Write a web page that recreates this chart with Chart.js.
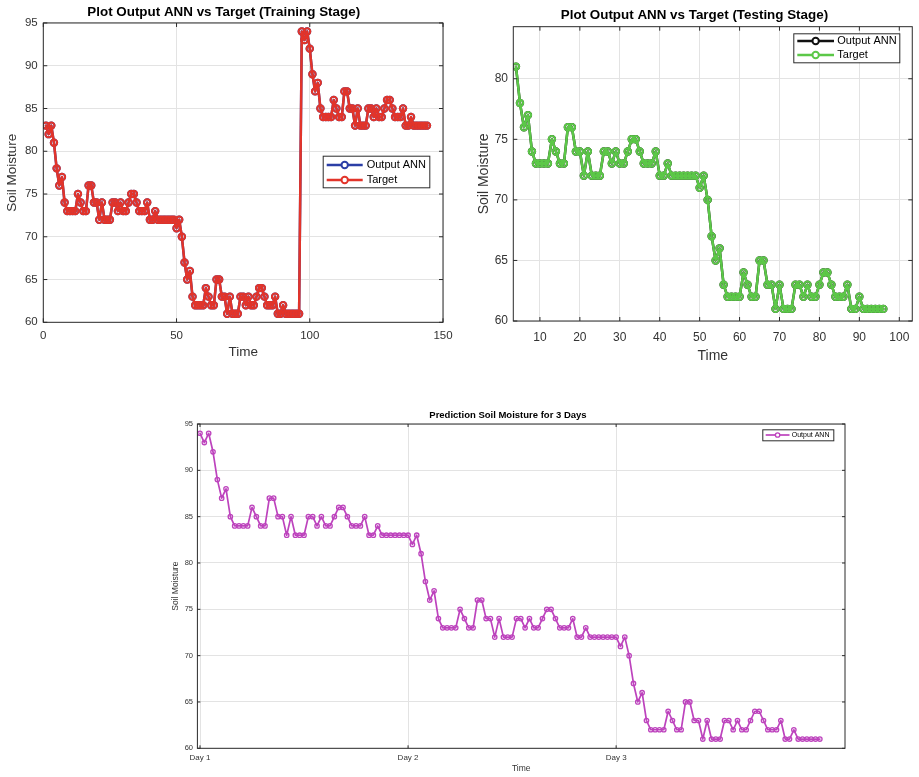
<!DOCTYPE html>
<html>
<head>
<meta charset="utf-8">
<script src="https://cdn.jsdelivr.net/npm/chart.js"></script>
<style>
  html, body { margin: 0; padding: 0; background: #fff; }
  body { width: 919px; height: 777px; position: relative; overflow: hidden; }
  canvas { position: absolute; }
  #train { left: 0; top: 0; }
  #test { left: 470px; top: 0; }
  #pred { left: 150px; top: 400px; }
</style>
</head>
<body>
<canvas id="train" width="470" height="370"></canvas>
<canvas id="test" width="449" height="370"></canvas>
<canvas id="pred" width="719" height="377"></canvas>
<script>
// soil moisture, one value per step
const trainTarget = [
  83,82,83,81,78,76,77,74,73,73,73,73,75,74,73,73,76,76,74,74,72,74,72,72,72,74,74,73,74,73,73,74,75,75,74,73,73,73,74,72,72,73,72,72,72,72,72,72,
  72,71,72,70,67,65,66,63,62,62,62,62,64,63,62,62,65,65,63,63,61,63,61,61,61,63,63,62,63,62,62,63,64,64,63,62,62,62,63,61,61,62,61,61,61,61,61,61,
  94,93,94,92,89,87,88,85,84,84,84,84,86,85,84,84,87,87,85,85,83,85,83,83,83,85,85,84,85,84,84,85,86,86,85,84,84,84,85,83,83,84,83,83,83,83,83,83
];
const testTarget = [
  81,78,76,77,74,73,73,73,73,75,74,73,73,76,76,74,74,72,74,72,72,72,74,74,73,74,73,73,74,75,75,74,73,73,73,74,72,72,73,72,72,72,72,72,72,
  72,71,72,70,67,65,66,63,62,62,62,62,64,63,62,62,65,65,63,63,61,63,61,61,61,63,63,62,63,62,62,63,64,64,63,62,62,62,63,61,61,62,61,61,61,61,61,61
];
const predOutput = [
  94,93,94,92,89,87,88,85,84,84,84,84,86,85,84,84,87,87,85,85,83,85,83,83,83,85,85,84,85,84,84,85,86,86,85,84,84,84,85,83,83,84,83,83,83,83,83,83,
  83,82,83,81,78,76,77,74,73,73,73,73,75,74,73,73,76,76,74,74,72,74,72,72,72,74,74,73,74,73,73,74,75,75,74,73,73,73,74,72,72,73,72,72,72,72,72,72,
  72,71,72,70,67,65,66,63,62,62,62,62,64,63,62,62,65,65,63,63,61,63,61,61,61,63,63,62,63,62,62,63,64,64,63,62,62,62,63,61,61,62,61,61,61,61,61,61
];
const trainStart = 1;
const testStart = 4;
const predStart = 0;

const trainXTicks = [0, 50, 100, 150];
const testXTicks = [10, 20, 30, 40, 50, 60, 70, 80, 90, 100];
const yTicks95 = [60, 65, 70, 75, 80, 85, 90, 95];
const testYTicks = [60, 65, 70, 75, 80];
const predDayTicks = [0, 48, 96];
const predDayLabels = ['Day 1', 'Day 2', 'Day 3'];

const red = '#e2342a';
const blue = '#2b3ea6';
const green = '#5cc848';
const black = '#111111';
const magenta = '#bd43bd';
const gridCol = '#e3e3e3';
const axisCol = '#333333';

Chart.defaults.font.family = '"Liberation Sans", Arial, sans-serif';

const pts = (arr, start) => arr.map((v, i) => ({ x: start + i, y: v }));

function series(label, data, color, lw, r, pw, order) {
  return {
    label, data, order,
    borderColor: color, borderWidth: lw,
    borderJoinStyle: 'round', borderCapStyle: 'round',
    pointRadius: r, pointBorderWidth: pw,
    pointBorderColor: color, pointBackgroundColor: 'rgba(0,0,0,0)',
    pointHoverRadius: r, tension: 0
  };
}

// box round the plot area, with inward tick marks like matlab
const frame = {
  id: 'frame',
  afterDatasetsDraw(chart, args, o) {
    const { ctx, chartArea: a, scales } = chart;
    const len = o.tick || 4;
    ctx.save();
    ctx.strokeStyle = '#2b2b2b';
    ctx.lineWidth = 1;
    ctx.strokeRect(a.left, a.top, a.right - a.left, a.bottom - a.top);
    ctx.beginPath();
    scales.x.ticks.forEach(t => {
      const px = scales.x.getPixelForValue(t.value);
      ctx.moveTo(px, a.bottom); ctx.lineTo(px, a.bottom - len);
      ctx.moveTo(px, a.top); ctx.lineTo(px, a.top + len);
    });
    scales.y.ticks.forEach(t => {
      const py = scales.y.getPixelForValue(t.value);
      ctx.moveTo(a.left, py); ctx.lineTo(a.left + len, py);
      ctx.moveTo(a.right, py); ctx.lineTo(a.right - len, py);
    });
    ctx.stroke();
    ctx.restore();
  }
};

// legend in a framed box, placed where matlab put it
const boxLegend = {
  id: 'boxLegend',
  afterDraw(chart, args, o) {
    const ctx = chart.ctx;
    ctx.save();
    ctx.fillStyle = '#fff';
    ctx.fillRect(o.x, o.y, o.w, o.h);
    ctx.strokeStyle = '#2b2b2b';
    ctx.lineWidth = 1;
    ctx.strokeRect(o.x + 0.5, o.y + 0.5, o.w, o.h);
    ctx.font = o.size + 'px "Liberation Sans", Arial, sans-serif';
    ctx.textBaseline = 'middle';
    chart.data.datasets.forEach((ds, i) => {
      const y = o.y + o.rowTop + i * (o.rowGap || 0);
      const x0 = o.x + o.line[0], x1 = o.x + o.line[1];
      ctx.strokeStyle = ds.borderColor;
      ctx.lineWidth = ds.borderWidth;
      ctx.beginPath(); ctx.moveTo(x0, y); ctx.lineTo(x1, y); ctx.stroke();
      ctx.lineWidth = ds.pointBorderWidth;
      ctx.fillStyle = '#fff';
      ctx.beginPath(); ctx.arc((x0 + x1) / 2, y, ds.pointRadius, 0, Math.PI * 2); ctx.fill(); ctx.stroke();
      ctx.fillStyle = '#000';
      ctx.fillText(ds.label, o.x + o.textX, y);
    });
    ctx.restore();
  }
};

function xScale(min, max, ticks, h, pad, fontSize, titleSize, cb) {
  return {
    type: 'linear', min, max,
    afterBuildTicks: s => { s.ticks = ticks.map(v => ({ value: v })); },
    afterFit: s => { s.height = h; },
    grid: { color: gridCol, drawTicks: false },
    border: { display: false },
    ticks: { padding: pad, color: axisCol, font: { size: fontSize }, maxRotation: 0, callback: cb || (v => v) },
    title: { display: true, text: 'Time', color: axisCol, padding: 0, font: { size: titleSize } }
  };
}

function yScale(min, max, ticks, w, pad, fontSize, titleSize) {
  return {
    min, max,
    afterBuildTicks: s => { s.ticks = ticks.map(v => ({ value: v })); },
    afterFit: s => { s.width = w; },
    grid: { color: gridCol, drawTicks: false },
    border: { display: false },
    ticks: { padding: pad, color: axisCol, font: { size: fontSize } },
    title: { display: true, text: 'Soil Moisture', color: axisCol, padding: 0, font: { size: titleSize } }
  };
}

new Chart(document.getElementById('train'), {
  type: 'line',
  data: {
    datasets: [
      series('Output ANN', pts(trainTarget, trainStart), blue, 2.5, 3.2, 2, 1),
      series('Target', pts(trainTarget, trainStart), red, 2.5, 3.2, 2, 0)
    ]
  },
  options: {
    responsive: false,
    animation: false,
    layout: { padding: { top: 0, left: 4.4, right: 27, bottom: 9.9 } },
    plugins: {
      legend: { display: false },
      tooltip: { enabled: false },
      title: {
        display: true, text: 'Plot Output ANN vs Target (Training Stage)', color: '#000',
        font: { size: 13.4, weight: 'bold' }, padding: { top: 4, bottom: 2.9 }
      },
      frame: { tick: 4 },
      boxLegend: { x: 322.7, y: 155.7, w: 106.6, h: 31.6, rowTop: 9.3, rowGap: 15, line: [4, 40], textX: 44, size: 11 }
    },
    scales: {
      x: xScale(0, 150, trainXTicks, 37.8, 6.8, 11.5, 13.5),
      y: yScale(60, 95, yTicks95, 38.9, 5.6, 11.5, 13.5)
    }
  },
  plugins: [frame, boxLegend]
});

new Chart(document.getElementById('test'), {
  type: 'line',
  data: {
    datasets: [
      series('Output ANN', pts(testTarget, testStart), black, 2.5, 3.2, 2, 1),
      series('Target', pts(testTarget, testStart), green, 2.5, 3.2, 2, 0)
    ]
  },
  options: {
    responsive: false,
    animation: false,
    layout: { padding: { top: 0, left: 5.9, right: 6, bottom: 5.6 } },
    plugins: {
      legend: { display: false },
      tooltip: { enabled: false },
      title: {
        display: true, text: 'Plot Output ANN vs Target (Testing Stage)', color: '#000',
        font: { size: 13.4, weight: 'bold' }, padding: { top: 7, bottom: 3.6 }
      },
      frame: { tick: 4 },
      boxLegend: { x: 323.3, y: 33.3, w: 106, h: 29, rowTop: 7.7, rowGap: 14, line: [4, 40.7], textX: 44, size: 11 }
    },
    scales: {
      x: xScale(3.33, 103.25, testXTicks, 43.4, 9.5, 12, 14),
      y: yScale(60, 84.3, testYTicks, 37.4, 5.3, 12, 14)
    }
  },
  plugins: [frame, boxLegend]
});

new Chart(document.getElementById('pred'), {
  type: 'line',
  data: {
    datasets: [
      series('Output ANN', pts(predOutput, predStart), magenta, 1.7, 2.2, 1.3, 0)
    ]
  },
  options: {
    responsive: false,
    animation: false,
    layout: { padding: { top: 0, left: 20.9, right: 24, bottom: 2.9 } },
    plugins: {
      legend: { display: false },
      tooltip: { enabled: false },
      title: {
        display: true, text: 'Prediction Soil Moisture for 3 Days', color: '#000',
        font: { size: 9.5, weight: 'bold' }, padding: { top: 10, bottom: 2.6 }
      },
      frame: { tick: 3 },
      boxLegend: { x: 612.3, y: 29.3, w: 71, h: 11, rowTop: 5.7, line: [3.4, 27.2], textX: 29.4, size: 7 }
    },
    scales: {
      x: xScale(-0.6, 148.8, predDayTicks, 25.8, 4.9, 8, 8.5,
        v => predDayLabels[predDayTicks.indexOf(v)]),
      y: yScale(60, 95, yTicks95, 26.5, 4.4, 7.5, 8.5)
    }
  },
  plugins: [frame, boxLegend]
});
</script>
</body>
</html>
